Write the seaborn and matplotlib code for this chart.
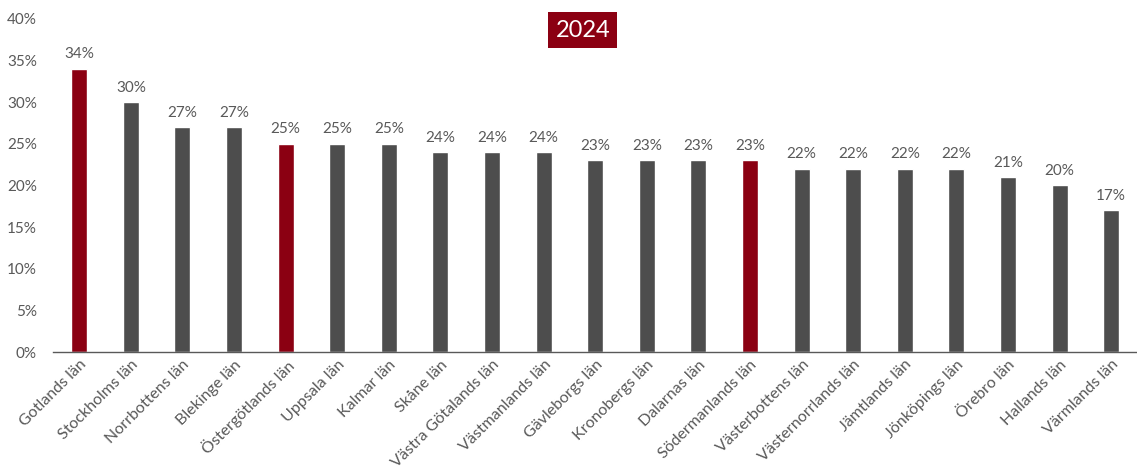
import matplotlib
matplotlib.use("Agg")
import matplotlib.pyplot as plt
import seaborn as sns
import pandas as pd

counties = ["Gotlands län", "Stockholms län", "Norrbottens län", "Blekinge län",
            "Östergötlands län", "Uppsala län", "Kalmar län", "Skåne län",
            "Västra Götalands län", "Västmanlands län", "Gävleborgs län",
            "Kronobergs län", "Dalarnas län", "Södermanlands län",
            "Västerbottens län", "Västernorrlands län", "Jämtlands län",
            "Jönköpings län", "Örebro län", "Hallands län", "Värmlands län"]
shares = [34, 30, 27, 27, 25, 25, 25, 24, 24, 24, 23, 23, 23, 23,
          22, 22, 22, 22, 21, 20, 17]
highlighted = ["Gotlands län", "Östergötlands län", "Södermanlands län"]
year_label = "2024"

RED = "#8B0012"
GREY = "#4D4D4D"
TEXT = "#595959"

sns.set_theme(style="white")
plt.rcParams["font.family"] = ["Lato", "DejaVu Sans"]

df = pd.DataFrame({"county": counties, "share": shares})
palette = {c: (RED if c in highlighted else GREY) for c in counties}

fig = plt.figure(figsize=(11.37, 4.70), dpi=100)
ax = fig.add_axes([0.047, 0.251, 0.953, 0.709])

sns.barplot(data=df, x="county", y="share", hue="county", palette=palette,
            width=0.31, legend=False, ax=ax, saturation=1)

for i, v in enumerate(shares):
    ax.text(i, v + 0.9, f"{v}%", ha="center", va="bottom",
            fontsize=11, color=TEXT)

ax.set_ylim(0, 40)
ax.set_xlim(-0.5, len(counties) - 0.5)
ax.set_yticks(range(0, 41, 5))
ax.set_yticklabels([f"{t}%" for t in range(0, 41, 5)])
ax.set_xlabel("")
ax.set_ylabel("")
ax.tick_params(axis="y", labelsize=11, labelcolor=TEXT, length=0, pad=12)
ax.tick_params(axis="x", labelsize=11.5, labelcolor=TEXT, length=0, pad=4)
plt.setp(ax.get_xticklabels(), rotation=45, ha="right", rotation_mode="anchor")

for side in ["top", "right", "left"]:
    ax.spines[side].set_visible(False)
ax.spines["bottom"].set_color("#595959")
ax.spines["bottom"].set_linewidth(1.0)

fig.text(0.5125, 0.936, year_label, ha="center", va="center",
         fontsize=17, color="white",
         bbox=dict(boxstyle="square,pad=0.3", facecolor=RED, edgecolor="none"))

fig.savefig("out.png", dpi=100)
